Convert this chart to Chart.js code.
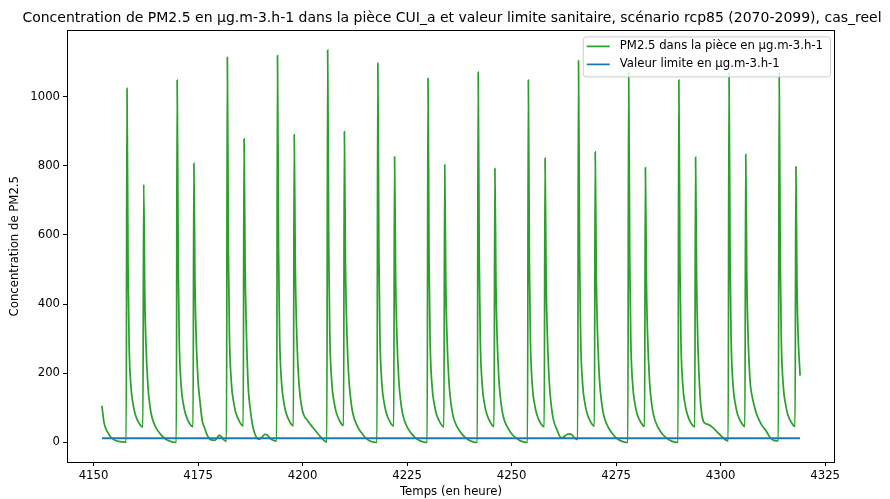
<!DOCTYPE html>
<html>
<head>
<meta charset="utf-8">
<title>PM2.5 CUI_a</title>
<script src="https://cdn.jsdelivr.net/npm/chart.js@4.4.0/dist/chart.umd.min.js"></script>
<style>
  html, body { margin: 0; padding: 0; background: #fff; }
  #chart { display: block; }
</style>
</head>
<body>
<canvas id="chart" width="890" height="499"></canvas>
<script>
const chartTitle = 'Concentration de PM2.5 en µg.m-3.h-1 dans la pièce CUI_a et valeur limite sanitaire, scénario rcp85 (2070-2099), cas_reel';
const seriesLabels = ['PM2.5 dans la pièce en µg.m-3.h-1', 'Valeur limite en µg.m-3.h-1'];
const xTitle = 'Temps (en heure)';
const yTitle = 'Concentration de PM2.5';
const xTicks = [4150, 4175, 4200, 4225, 4250, 4275, 4300, 4325];
const yTicks = [0, 200, 400, 600, 800, 1000];
const limitValue = 12; // valeur limite

// [heure, concentration], un tableau par jour
const pmDay1 = [[4152,106],[4152.5,58],[4153,38],[4153.5,27],[4154,17],[4154.5,11],[4155,7],[4156,3],[4157,1.5],[4157.8,1],
  [4158,1024],[4158.25,512],[4158.5,287],[4159,154],[4159.5,108],[4160,80],[4161,53],[4161.8,44],
  [4162,746],[4162.25,433],[4162.5,298],[4163,164],[4163.5,104],[4164,71],[4165,41],[4166,24],[4167,12],[4168,4.5],[4169,1],[4169.8,0],
  [4170,1048],[4170.25,524],[4170.5,293],[4171,157],[4171.5,110],[4172,82],[4173,54],[4173.8,45],
  [4174,807],[4174.25,468],[4174.5,323],[4175,178],[4175.5,114]];
const pmDay2 = [[4176,62],[4176.5,44],[4177,26],[4177.5,14],[4178,8],[4179,6],[4179.5,12],[4180,20],[4180.5,18],[4181,9],[4181.8,3],
  [4182,1114],[4182.25,557],[4182.5,312],[4183,167],[4183.5,117],[4184,87],[4185,58],[4185.8,48],
  [4186,878],[4186.25,510],[4186.5,350],[4187,160],[4187.5,95],[4188,52],[4188.5,28],[4189,14],[4189.5,9],[4190,12],[4190.5,18],[4191,23],[4191.5,22],[4192,15],[4192.5,9],[4193,6],[4193.8,4],
  [4194,1119],[4194.25,560],[4194.5,313],[4195,168],[4195.5,117],[4196,87],[4197,58],[4197.8,48],
  [4198,890],[4198.25,516],[4198.5,356],[4199,196],[4199.5,125]];
const pmDay3 = [[4200,90],[4200.5,74],[4201,66],[4202,50],[4203,35],[4204,20],[4205,7],[4205.8,1],
  [4206,1135],[4206.25,568],[4206.5,318],[4207,170],[4207.5,119],[4208,89],[4209,59],[4209.8,49],
  [4210,899],[4210.25,521],[4210.5,360],[4211,198],[4211.5,126],[4212,85],[4213,49],[4214,29],[4215,14],[4216,5],[4217,1],[4217.8,0],
  [4218,1097],[4218.25,549],[4218.5,307],[4219,165],[4219.5,115],[4220,86],[4221,57],[4221.8,47],
  [4222,826],[4222.25,479],[4222.5,330],[4223,182],[4223.5,116]];
const pmDay4 = [[4224,78],[4225,45],[4226,26],[4227,13],[4228,5],[4229,1],[4229.8,0],
  [4230,1053],[4230.25,527],[4230.5,295],[4231,158],[4231.5,111],[4232,82],[4233,55],[4233.8,45],
  [4234,803],[4234.25,466],[4234.5,321],[4235,177],[4235.5,112],[4236,76],[4237,44],[4238,26],[4239,13],[4240,5],[4241,1],[4241.8,0],
  [4242,1071],[4242.25,536],[4242.5,300],[4243,161],[4243.5,112],[4244,84],[4245,56],[4245.8,46],
  [4246,792],[4246.25,459],[4246.5,317],[4247,174],[4247.5,111]];
const pmDay5 = [[4248,75],[4249,44],[4250,25],[4251,13],[4252,5],[4253,1],[4253.8,0],
  [4254,1048],[4254.25,524],[4254.5,293],[4255,157],[4255.5,110],[4256,82],[4257,54],[4257.8,45],
  [4258,822],[4258.25,477],[4258.5,329],[4259,175],[4259.5,105],[4260,66],[4261,32],[4261.5,18],[4262,13],[4262.5,16],[4263,21],[4263.5,24],[4264,24],[4264.5,21],[4265,13],[4265.5,9],[4265.8,8],
  [4266,1104],[4266.25,552],[4266.5,309],[4267,166],[4267.5,116],[4268,86],[4269,57],[4269.8,47],
  [4270,840],[4270.25,487],[4270.5,336],[4271,185],[4271.5,118]];
const pmDay6 = [[4272,80],[4273,46],[4274,27],[4275,13],[4276,5],[4277,1],[4277.8,0],
  [4278,1070],[4278.25,535],[4278.5,300],[4279,161],[4279.5,112],[4280,83],[4281,56],[4281.8,46],
  [4282,795],[4282.25,461],[4282.5,318],[4283,175],[4283.5,111],[4284,76],[4285,44],[4286,25],[4287,13],[4288,5],[4289,1],[4289.8,0],
  [4290,1048],[4290.25,524],[4290.5,293],[4291,157],[4291.5,110],[4292,82],[4293,54],[4293.8,45],
  [4294,825],[4294.25,470],[4294.5,310],[4295,150],[4295.5,80]];
const pmDay7 = [[4296,58],[4297,52],[4298,44],[4299,32],[4300,20],[4301,9],[4301.5,5],[4301.8,4],
  [4302,1068],[4302.25,534],[4302.5,299],[4303,160],[4303.5,112],[4304,83],[4305,56],[4305.8,46],
  [4306,833],[4306.25,483],[4306.5,333],[4307,183],[4307.5,135],[4308,108],[4308.5,85],[4309,70],[4309.5,57],[4310,47],[4310.5,39],[4311,31],[4311.5,20],[4312,12],[4312.5,7],[4313,5],[4313.8,4],
  [4314,1068],[4314.25,534],[4314.5,299],[4315,160],[4315.5,112],[4316,83],[4317,56],[4317.8,46],
  [4318,797],[4318.25,462],[4318.5,319],[4319,193]];

const pmPoints = [].concat(pmDay1, pmDay2, pmDay3, pmDay4, pmDay5, pmDay6, pmDay7)
  .map(p => ({ x: p[0], y: p[1] }));
const firstHour = pmPoints[0].x;
const lastHour = pmPoints[pmPoints.length - 1].x;
const limitPoints = [{ x: firstHour, y: limitValue }, { x: lastHour, y: limitValue }];

// marges de 5% comme matplotlib
const yValues = pmPoints.map(p => p.y).concat([limitValue]);
const yLo = Math.min(...yValues), yHi = Math.max(...yValues);
const xMargin = (lastHour - firstHour) * 0.05;
const yMargin = (yHi - yLo) * 0.05;

const baseSize = 11.7;
Chart.defaults.font.family = '"DejaVu Sans", sans-serif';
Chart.defaults.font.size = baseSize;
Chart.defaults.color = '#000';

// cadre complet + légende dans le coin haut droit
const frameAndLegend = {
  id: 'frameAndLegend',
  afterDatasetsDraw(chart) {
    const ctx = chart.ctx;
    const ca = chart.chartArea;
    ctx.save();
    ctx.strokeStyle = '#000';
    ctx.lineWidth = 1;
    ctx.strokeRect(Math.round(ca.left) + 0.5, Math.round(ca.top) + 0.5,
      Math.round(ca.right - ca.left) - 1, Math.round(ca.bottom - ca.top));

    ctx.font = baseSize + 'px "DejaVu Sans"';
    const sets = chart.data.datasets;
    const textW = Math.max(...sets.map(d => ctx.measureText(d.label).width));
    const right = ca.right - 5;
    const top = ca.top + 6;
    const w = 37 + textW + 7;
    const h = 40;
    const left = right - w;

    ctx.beginPath();
    ctx.roundRect(left + 0.5, top + 0.5, w, h, 3);
    ctx.fillStyle = 'rgba(255,255,255,0.8)';
    ctx.fill();
    ctx.strokeStyle = '#cccccc';
    ctx.stroke();

    sets.forEach((d, i) => {
      const y = top + 10 + i * 18;
      ctx.beginPath();
      ctx.moveTo(left + 4, y);
      ctx.lineTo(left + 27, y);
      ctx.strokeStyle = d.borderColor;
      ctx.lineWidth = 1.75;
      ctx.stroke();
      ctx.fillStyle = '#000';
      ctx.textAlign = 'left';
      ctx.textBaseline = 'middle';
      ctx.fillText(d.label, left + 37, y);
    });
    ctx.restore();
  }
};

const tickGrid = { display: true, drawOnChartArea: false, drawTicks: true, tickLength: 4, color: '#000', lineWidth: 1 };

new Chart(document.getElementById('chart'), {
  type: 'line',
  data: {
    datasets: [{
      label: seriesLabels[0],
      data: pmPoints,
      borderColor: '#2ca02c',
      borderWidth: 1.75,
      pointRadius: 0,
      cubicInterpolationMode: 'monotone',
      order: 2
    }, {
      label: seriesLabels[1],
      data: limitPoints,
      borderColor: '#1f77b4',
      borderWidth: 1.9,
      pointRadius: 0,
      order: 1
    }]
  },
  options: {
    responsive: false,
    devicePixelRatio: 1,
    animation: false,
    events: [],
    layout: { padding: { left: 14, right: 0, top: 0, bottom: 0 } },
    plugins: {
      legend: { display: false },
      tooltip: { enabled: false },
      title: {
        display: true,
        text: chartTitle,
        color: '#000',
        font: { size: 14, weight: 'normal' },
        padding: { top: 9.6, bottom: 4 }
      }
    },
    scales: {
      x: {
        type: 'linear',
        min: firstHour - xMargin,
        max: lastHour + xMargin,
        afterFit: s => { s.height = 37; },
        afterBuildTicks: s => { s.ticks = xTicks.map(v => ({ value: v })); },
        grid: tickGrid,
        border: { display: false },
        ticks: { autoSkip: false, maxRotation: 0, padding: 3, color: '#000', callback: v => String(v) },
        title: { display: true, text: xTitle, color: '#000', padding: { top: 0, bottom: 0 } }
      },
      y: {
        type: 'linear',
        min: yLo - yMargin,
        max: yHi + yMargin,
        afterFit: s => { s.width = 53; },
        afterBuildTicks: s => { s.ticks = yTicks.map(v => ({ value: v })); },
        grid: tickGrid,
        border: { display: false },
        ticks: { padding: 3, color: '#000', callback: v => String(v) },
        title: { display: true, text: yTitle, color: '#000', padding: { top: -6, bottom: 0 } }
      },
      yRight: {
        position: 'right',
        display: true,
        afterFit: s => { s.width = 55; },
        grid: { display: false },
        border: { display: false },
        ticks: { display: false }
      }
    }
  },
  plugins: [frameAndLegend]
});
</script>
</body>
</html>
